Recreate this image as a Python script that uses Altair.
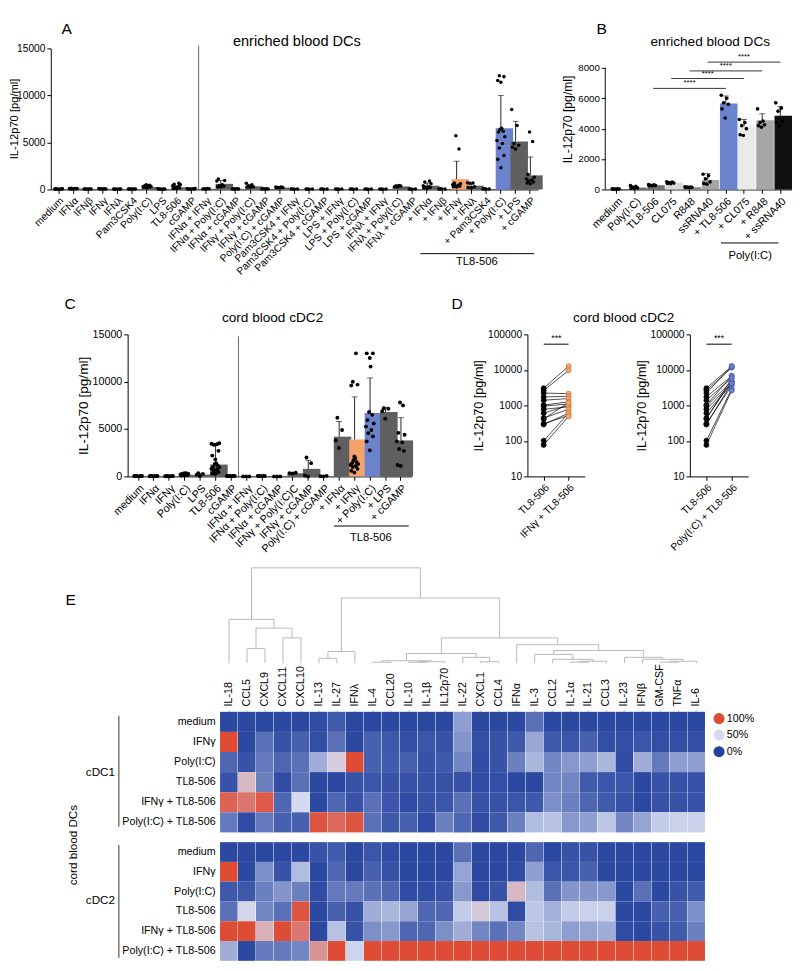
import altair as alt
import pandas as pd

FONT = "Liberation Sans"
GRAY = "#5f5f5f"
ORANGE = "#f5a36c"
BLUE = "#6b83cc"

# ---------------- Panel A : enriched blood DCs ----------------
A_cats = ["medium", "IFNα", "IFNβ", "IFNγ", "IFNλ", "Pam3CSK4", "Poly(I:C)", "LPS", "TL8-506", "cGAMP",
          "IFNα + IFNγ", "IFNα + Poly(I:C)", "IFNα + cGAMP", "IFNγ + Poly(I:C)", "IFNγ + cGAMP",
          "Poly(I:C) + cGAMP", "Pam3CSK4 + IFNγ", "Pam3CSK4 + Poly(I:C)", "Pam3CSK4 + cGAMP",
          "LPS + IFNγ", "LPS + Poly(I:C)", "LPS + cGAMP", "IFNλ + IFNγ", "IFNλ + Poly(I:C)", "IFNλ + cGAMP",
          "+ IFNα", "+ IFNβ", "+ IFNγ", "+ IFNλ", "+ Pam3CSK4", "+ Poly(I:C)", "+ LPS", "+ cGAMP"]
A_mean = [50, 90, 50, 70, 40, 50, 260, 50, 230, 60,
          70, 600, 60, 330, 60, 200, 45, 45, 45, 45, 45, 45, 45, 320, 45,
          400, 55, 1100, 400, 55, 6500, 5100, 1500]
A_sd = [20, 25, 15, 20, 10, 10, 80, 15, 150, 20,
        20, 350, 15, 130, 15, 40, 10, 10, 10, 10, 10, 10, 10, 60, 10,
        270, 12, 1900, 200, 12, 3500, 2150, 1950]
A_dots = [
    [30, 50, 70, 40, 60, 50, 30, 80],
    [60, 80, 100, 120, 90, 70, 100, 60],
    [40, 50, 60, 50, 40, 60],
    [50, 70, 90, 60, 80, 50],
    [30, 40, 50, 40, 30, 40],
    [40, 50, 60, 50, 40, 60],
    [500, 450, 400, 350, 300, 250, 200, 150, 300, 250],
    [30, 50, 70, 40, 60, 50],
    [650, 550, 500, 400, 300, 200, 150, 100, 80],
    [40, 60, 80, 100, 60, 50, 70],
    [50, 80, 100, 70, 60],
    [1100, 950, 900, 500, 400, 350, 300, 250],
    [40, 60, 80, 50, 70],
    [650, 500, 400, 250, 200, 300],
    [40, 60, 80, 50, 70],
    [200, 250, 150, 220, 180, 250],
    [30, 50, 40, 60],
    [30, 50, 40, 60],
    [30, 50, 40, 60],
    [30, 50, 40, 60],
    [30, 50, 40, 60],
    [30, 50, 40, 60],
    [30, 50, 40, 60],
    [420, 400, 380, 300, 250],
    [30, 50, 40, 60],
    [900, 800, 600, 400, 300, 200, 150, 100, 250],
    [40, 60, 50, 70],
    [5700, 4300, 700, 600, 500, 450, 400, 350, 300, 250],
    [720, 700, 650, 300, 200, 150],
    [40, 60, 50, 70],
    [12100, 12000, 11600, 11400, 6500, 6400, 6200, 6100, 5600, 5200, 4900, 4400, 3600, 3200, 2300],
    [8500, 6800, 4900, 4700, 4500, 4300],
    [6100, 5100, 1600, 1300, 1100, 1000, 900, 800, 700, 600],
]
A_special = {"+ IFNγ": ORANGE, "+ Poly(I:C)": BLUE}

# ---------------- Panel B : enriched blood DCs ----------------
B_cats = ["medium", "Poly(I:C)", "TL8-506", "CL075", "R848", "ssRNA40",
          "+ TL8-506", "+ CL075", "+ R848", "+ ssRNA40"]
B_mean = [30, 120, 280, 440, 150, 620, 5650, 4150, 4550, 4850]
B_sd = [10, 60, 30, 40, 20, 420, 500, 450, 430, 600]
B_dots = [
    [30, 20, 40, 25, 35, 30],
    [250, 200, 150, 100, 80, 60],
    [320, 300, 280, 260, 250, 240],
    [500, 480, 450, 420, 400, 380],
    [180, 160, 150, 140, 130, 120],
    [1000, 900, 700, 500, 400, 350],
    [6200, 6000, 5700, 5600, 5300, 4700],
    [4600, 4400, 4200, 4000, 3600, 3550],
    [5300, 4500, 4400, 4250, 4200, 4100],
    [5700, 5350, 5150, 4500, 4400, 4200],
]
B_colors = ["#555555", "#666666", "#707070", "#d9d9d9", "#8c8c8c", "#a5a5a5",
            BLUE, "#e9ebea", "#a6a6a6", "#111111"]
B_sig_start = ["TL8-506", "CL075", "R848", "ssRNA40"]
B_sig_end = ["+ TL8-506", "+ CL075", "+ R848", "+ ssRNA40"]
B_sig_mid = ["R848", "ssRNA40", "+ TL8-506", "+ CL075"]
B_sig_y = [6650, 7300, 7800, 8380]

# ---------------- Panel C : cord blood cDC2 ----------------
C_cats = ["medium", "IFNα", "IFNγ", "Poly(I:C)", "LPS", "TL8-506", "cGAMP",
          "IFNα + IFNγ", "IFNα + Poly(I:C)", "IFNα + cGAMP", "IFNγ + Poly(I:C)C", "IFNγ + cGAMP",
          "Poly(I:C) + cGAMP", "+ IFNα", "+ IFNγ", "+ Poly(I:C)", "+ LPS", "+ cGAMP"]
C_mean = [30, 30, 30, 170, 200, 1250, 50, 10, 40, 10, 330, 800, 20, 4200, 3900, 6700, 6800, 3800]
C_sd = [10, 10, 10, 80, 120, 2150, 15, 5, 10, 5, 80, 900, 10, 1600, 4500, 3700, 500, 2400]
C_dots = [
    [20, 30, 40, 50, 30, 20, 40, 30],
    [20, 30, 40, 30, 20, 40, 30, 25],
    [20, 30, 40, 30, 20, 40, 30, 25],
    [100, 150, 200, 250, 300, 340, 150, 100, 200, 250, 300],
    [50, 170, 270, 340],
    [3500, 3450, 3400, 3350, 2700, 2200, 1800, 1400, 1300, 1150, 1000, 950, 800, 700, 600, 450, 300, 250],
    [30, 40, 60, 50, 30, 40, 60, 50],
    [0, 0, 0],
    [30, 40, 50, 60, 40, 30],
    [0, 0, 0],
    [300, 350, 380],
    [2000, 1400, 100, 0],
    [0, 30, 60],
    [6200, 4900, 3800, 3000],
    [13000, 10000, 9700, 9600, 2100, 1900, 1700, 1500, 1400, 1300, 1200, 1100, 1000, 800, 600, 400],
    [13000, 13000, 12500, 11600, 6800, 6500, 5950, 5600, 5260, 4900, 4570, 4230, 3700, 2750],
    [7200, 7150, 6900, 6100],
    [7800, 7500, 4600, 4400, 3700, 3600, 2900, 2700, 1200, 1100],
]
C_special = {"+ IFNγ": ORANGE, "+ Poly(I:C)": BLUE}

# ---------------- Panel D : paired donors ----------------
D_tl8 = [3050, 2630, 2220, 1730, 1400, 1020, 960, 776, 605, 440, 413, 307, 289, 101, 77]
D_ifng_tl8 = [12700, 9700, 2140, 1800, 1560, 1260, 1090, 915, 1000, 776, 1200, 520, 605, 605, 490]
D_poly_tl8 = [12700, 11500, 12700, 6800, 5850, 6800, 4740, 4270, 4000, 4740, 5850, 3600, 4270, 2920, 2630]

# ---------------- Panel E : heatmap ----------------
CYTOS = ["IL-18", "CCL5", "CXCL9", "CXCL11", "CXCL10", "IL-13", "IL-27", "IFNλ", "IL-4",
         "CCL20", "IL-10", "IL-1β", "IL12p70", "IL-22", "CXCL1", "CCL4", "IFNα", "IL-3",
         "CCL2", "IL-1α", "IL-21", "CCL3", "IL-23", "IFNβ", "GM-CSF", "TNFα", "IL-6"]
CONDS = ["medium", "IFNγ", "Poly(I:C)", "TL8-506", "IFNγ + TL8-506", "Poly(I:C) + TL8-506"]
cdc1 = {
    "medium": [0.02, 0.02, 0.02, 0.02, 0.02, 0.03, 0.08, 0.02, 0.02,
               0.02, 0.02, 0.02, 0.02, 0.30, 0.02, 0.02, 0.02, 0.15,
               0.02, 0.02, 0.02, 0.02, 0.02, 0.02, 0.02, 0.02, 0.02],
    "IFNγ": [1.00, 0.02, 0.15, 0.05, 0.10, 0.04, 0.15, 0.02, 0.10,
             0.07, 0.04, 0.06, 0.05, 0.27, 0.04, 0.05, 0.07, 0.33,
             0.07, 0.06, 0.10, 0.04, 0.04, 0.06, 0.04, 0.04, 0.04],
    "Poly(I:C)": [0.12, 0.05, 0.18, 0.12, 0.15, 0.35, 0.55, 1.00, 0.10,
                  0.08, 0.10, 0.05, 0.07, 0.22, 0.03, 0.05, 0.20, 0.38,
                  0.22, 0.28, 0.30, 0.38, 0.03, 0.35, 0.18, 0.30, 0.30],
    "TL8-506": [0.05, 0.62, 0.20, 0.03, 0.15, 0.02, 0.02, 0.05, 0.06,
                0.05, 0.05, 0.05, 0.05, 0.05, 0.03, 0.04, 0.02, 0.02,
                0.22, 0.22, 0.08, 0.06, 0.06, 0.02, 0.05, 0.05, 0.05],
    "IFNγ + TL8-506": [0.92, 0.85, 0.95, 0.12, 0.50, 0.02, 0.12, 0.05, 0.15,
                       0.06, 0.03, 0.05, 0.06, 0.15, 0.05, 0.05, 0.06, 0.07,
                       0.25, 0.20, 0.12, 0.08, 0.05, 0.02, 0.05, 0.05, 0.05],
    "Poly(I:C) + TL8-506": [0.18, 0.03, 0.18, 0.10, 0.10, 0.97, 0.90, 0.97, 0.15,
                            0.07, 0.10, 0.03, 0.20, 0.12, 0.03, 0.07, 0.20, 0.40,
                            0.42, 0.28, 0.30, 0.43, 0.22, 0.32, 0.45, 0.47, 0.47],
}
cdc2 = {
    "medium": [0.02, 0.02, 0.02, 0.02, 0.02, 0.05, 0.08, 0.02, 0.06,
               0.03, 0.02, 0.02, 0.02, 0.15, 0.02, 0.02, 0.02, 0.12,
               0.02, 0.05, 0.05, 0.02, 0.02, 0.02, 0.02, 0.02, 0.02],
    "IFNγ": [1.00, 0.02, 0.25, 0.05, 0.40, 0.02, 0.12, 0.02, 0.10,
             0.05, 0.02, 0.02, 0.02, 0.32, 0.02, 0.02, 0.03, 0.30,
             0.06, 0.06, 0.10, 0.02, 0.02, 0.02, 0.02, 0.02, 0.02],
    "Poly(I:C)": [0.07, 0.07, 0.20, 0.27, 0.20, 0.03, 0.18, 0.18, 0.15,
                  0.12, 0.03, 0.03, 0.05, 0.28, 0.03, 0.05, 0.62, 0.40,
                  0.15, 0.27, 0.27, 0.28, 0.02, 0.15, 0.02, 0.05, 0.08],
    "TL8-506": [0.15, 0.52, 0.22, 0.15, 0.97, 0.02, 0.10, 0.05, 0.35,
                0.38, 0.32, 0.12, 0.12, 0.45, 0.56, 0.42, 0.03, 0.43,
                0.36, 0.45, 0.47, 0.47, 0.02, 0.02, 0.10, 0.10, 0.25],
    "IFNγ + TL8-506": [1.00, 1.00, 0.65, 1.00, 0.85, 0.02, 0.42, 0.05, 0.25,
                       0.28, 0.12, 0.12, 0.25, 0.35, 0.22, 0.15, 0.22, 0.42,
                       0.38, 0.30, 0.32, 0.35, 0.03, 0.02, 0.05, 0.08, 0.20],
    "Poly(I:C) + TL8-506": [0.35, 0.02, 0.18, 0.18, 0.22, 0.75, 1.00, 0.48, 1.00,
                            1.00, 1.00, 1.00, 1.00, 1.00, 1.00, 1.00, 1.00, 1.00,
                            1.00, 1.00, 1.00, 1.00, 1.00, 1.00, 1.00, 1.00, 1.00],
}
# dendrogram merges: (left, right, height); "mK" = K-th merge
MERGES = [
    ("CCL5", "CXCL9", 15), ("CXCL11", "CXCL10", 26), ("m0", "m1", 36), ("IL-18", "m2", 45),
    ("IL-13", "IL-27", 5), ("m4", "IFNλ", 12),
    ("IL-4", "CCL20", 1), ("IL-10", "IL-1β", 1), ("m7", "IL12p70", 1.5), ("m6", "m8", 2.5),
    ("CXCL1", "CCL4", 1.5), ("IL-22", "m10", 6), ("m9", "m11", 10),
    ("IL-1α", "IL-21", 1), ("m13", "CCL3", 2), ("CCL2", "m14", 4), ("IL-3", "m15", 9),
    ("GM-CSF", "TNFα", 1), ("m17", "IL-6", 2), ("IFNβ", "m18", 4), ("IL-23", "m19", 6),
    ("m16", "m20", 13), ("IFNα", "m21", 19), ("m12", "m22", 26), ("m5", "m23", 67), ("m3", "m24", 98),
]

HEAT_SCALE = alt.Scale(domain=[0, 0.5, 1], range=["#25439f", "#d4dbf0", "#de4c36"], interpolate="rgb")
JIT = [0, -0.8, 0.8, -0.4, 0.4, -1, 1, -0.6, 0.6, -0.2, 0.2]
ONE = pd.DataFrame({"k": [0]})


def note(text, x, y, size=11, align="left", baseline="top", angle=None, color="black", opacity=1):
    kw = dict(text=text, fontSize=size, align=align, baseline=baseline, color=color, font=FONT, opacity=opacity)
    if angle is not None:
        kw["angle"] = angle
    return alt.Chart(ONE).mark_text(**kw).encode(x=alt.value(x), y=alt.value(y))


def anchor(x, y):
    return note(".", x, y, size=2, opacity=0)


def vline(x, y1, y2, color="black"):
    return alt.Chart(ONE).mark_rule(color=color, strokeWidth=1).encode(
        x=alt.value(x), y=alt.value(y1), y2=alt.value(y2))


def hline(x1, x2, y, color="black"):
    return alt.Chart(ONE).mark_rule(color=color, strokeWidth=1).encode(
        x=alt.value(x1), x2=alt.value(x2), y=alt.value(y))


def spacer(w):
    return anchor(w - 0.6, 0).properties(width=w, height=1)


def bar_panel(cats, means, sds, dots, colors, W, ydom, yvals, pi, po, dot_size, jit,
              xfs, yfs, ytfs, ytitle_pad=2, ytitle_x=None, ytitle_y=None, ydomain_line=True):
    assert len(cats) == len(means) == len(sds) == len(dots) == len(colors)
    bars = pd.DataFrame({"cat": cats, "mean": means,
                         "top": [m + s for m, s in zip(means, sds)], "col": colors})
    rows = []
    for c, vals in zip(cats, dots):
        for j, v in enumerate(sorted(vals)):
            rows.append({"cat": c, "val": v, "off": JIT[j % len(JIT)]})
    dd = pd.DataFrame(rows)
    step = W / (len(cats) - pi + 2 * po)
    bw = step * (1 - pi)
    xscale = alt.Scale(domain=cats, paddingInner=pi, paddingOuter=po)
    xaxis = alt.Axis(title=None, labelAngle=-45, labelAlign="right", labelBaseline="top",
                     labelFontSize=xfs, labelPadding=2, tickSize=4, labelOverlap=False)
    yax = dict(title="IL-12p70 [pg/ml]", values=yvals, format="d", labelFontSize=yfs, titleFontSize=ytfs,
               tickSize=4, labelPadding=2, titlePadding=ytitle_pad, grid=False, domain=ydomain_line)
    if ytitle_x is not None:
        yax["titleX"] = ytitle_x
        yax["titleY"] = ytitle_y
    yscale = alt.Scale(domain=ydom, nice=False, zero=True)

    def X(f):
        return alt.X(f, scale=xscale, axis=xaxis)

    def Y(f):
        return alt.Y(f, scale=yscale, axis=alt.Axis(**yax))

    b = alt.Chart(bars).mark_bar().encode(x=X("cat:N"), y=Y("mean:Q"), color=alt.Color("col:N", scale=None))
    e = alt.Chart(bars).mark_rule(color="#222222", strokeWidth=1).encode(x=X("cat:N"), y=Y("mean:Q"), y2="top:Q")
    cap = alt.Chart(bars).mark_tick(color="#222222", thickness=1, size=6).encode(x=X("cat:N"), y=Y("top:Q"))
    d = alt.Chart(dd).mark_circle(color="black", size=dot_size, opacity=1).encode(
        x=X("cat:N"), y=Y("val:Q"),
        xOffset=alt.XOffset("off:Q", scale=alt.Scale(domain=[-1, 1], range=[bw / 2 - jit, bw / 2 + jit])))
    return [b, e, cap, d], X, Y


# ---------- A ----------
A_colors = [A_special.get(c, GRAY) for c in A_cats]
A_layers, AX, AY = bar_panel(A_cats, A_mean, A_sd, A_dots, A_colors, 501, [0, 15000],
                             [0, 5000, 10000, 15000], 0.3, 0.178, 13, 4, 10.5, 10.5, 11.5,
                             ytitle_x=-32, ytitle_y=72)
A = alt.layer(
    *A_layers,
    vline(152, -3, 145, color="#666666"),
    hline(380, 497, 211),
    note("TL8-506", 438, 214, size=11.5, align="center"),
    note("A", 11, -28, size=16),
    note("enriched blood DCs", 253, -7, size=15, align="center", baseline="middle"),
    anchor(503, 0), anchor(0, 250),
).properties(width=501, height=145)

# ---------- B (plot area 145 px tall, 8000 sits 20 px below its top) ----------
B_layers, BX, BY = bar_panel(B_cats, B_mean, B_sd, B_dots, B_colors, 192, [0, 9280],
                             [0, 2000, 4000, 6000, 8000], 0.35, 0.314, 14, 4.5, 11, 10, 12.5,
                             ytitle_pad=3, ydomain_line=False)
sigdf = pd.DataFrame({"cat": B_sig_start, "e": B_sig_end, "y": B_sig_y})
middf = pd.DataFrame({"cat": B_sig_mid, "y": B_sig_y})
sig_rules = alt.Chart(sigdf).mark_rule(color="#333333", strokeWidth=1).encode(
    x=BX("cat:N"), x2="e:N", y=BY("y:Q"))
sig_text = alt.Chart(middf).mark_text(text="****", fontSize=8, baseline="bottom", dy=-1, font=FONT).encode(
    x=BX("cat:N"), y=BY("y:Q"))
B = alt.layer(
    *B_layers, sig_rules, sig_text,
    vline(0, 20, 145),
    hline(119, 178, 200),
    note("Poly(I:C)", 149, 207, size=11.5, align="center"),
    note("B", -9, -28, size=16),
    note("enriched blood DCs", 108, -7, size=14, align="center", baseline="middle"),
    anchor(-49, 0),
).properties(width=192, height=145)

# ---------- C ----------
C_colors = [C_special.get(c, GRAY) for c in C_cats]
C_layers, CX, CY = bar_panel(C_cats, C_mean, C_sd, C_dots, C_colors, 292, [0, 15000],
                             [0, 5000, 10000, 15000], 0.3, 0.343, 16, 4.5, 11, 11, 14)
C = alt.layer(
    *C_layers,
    vline(114, 2, 146, color="#666666"),
    hline(212, 289, 197),
    note("TL8-506", 250, 203, size=11.5, align="center"),
    note("C", -65, -39, size=16),
    note("cord blood cDC2", 149, -17, size=14, align="center", baseline="middle"),
    anchor(-70, 0), anchor(293, 0), anchor(0, 234),
).properties(width=292, height=146)


# ---------- D ----------
def d_layers(cond2, vals2, fill2, stroke2):
    assert len(vals2) == len(D_tl8)
    order = ["TL8-506", cond2]
    rows = []
    for i, (a, b) in enumerate(zip(D_tl8, vals2)):
        rows.append({"pair": i, "cond": "TL8-506", "val": a, "f": "black", "s": "black"})
        rows.append({"pair": i, "cond": cond2, "val": b, "f": fill2, "s": stroke2})
    df = pd.DataFrame(rows)
    xscale = alt.Scale(type="point", domain=order, padding=0.654)
    xaxis = alt.Axis(title=None, labelAngle=-45, labelAlign="right", labelBaseline="top",
                     labelFontSize=10.5, labelPadding=2, tickSize=4)
    yscale = alt.Scale(type="log", domain=[10, 100000], nice=False)
    yaxis = alt.Axis(title="IL-12p70 [pg/ml]", values=[10, 100, 1000, 10000, 100000], format="d",
                     labelFontSize=10.5, titleFontSize=13, titlePadding=2, tickSize=4, labelPadding=2)

    def X(f):
        return alt.X(f, scale=xscale, axis=xaxis)

    def Y(f):
        return alt.Y(f, scale=yscale, axis=yaxis)

    lines = alt.Chart(df).mark_line(color="black", strokeWidth=0.7).encode(x=X("cond:N"), y=Y("val:Q"), detail="pair:N")
    pts = alt.Chart(df).mark_point(filled=True, size=26, strokeWidth=0.8, opacity=1).encode(
        x=X("cond:N"), y=Y("val:Q"),
        fill=alt.Fill("f:N", scale=None), stroke=alt.Stroke("s:N", scale=None))
    sig = pd.DataFrame({"cond": ["TL8-506"], "c2": [cond2], "y": [53000]})
    sr = alt.Chart(sig).mark_rule(color="black", strokeWidth=1).encode(x=X("cond:N"), x2="c2:N", y=Y("y:Q"))
    st = alt.Chart(sig).mark_text(text="***", fontSize=9, baseline="bottom", dx=13, dy=-1, font=FONT).encode(
        x=X("cond:N"), y=Y("y:Q"))
    return [lines, pts, sr, st]


D1 = alt.layer(
    *d_layers("IFNγ + TL8-506", D_ifng_tl8, ORANGE, "#c8773f"),
    note("D", -78, -39, size=16),
    note("cord blood cDC2", 99, -17, size=14, align="center", baseline="middle"),
    anchor(-80, 0),
).properties(width=59, height=146)
D2 = alt.layer(*d_layers("Poly(I:C) + TL8-506", D_poly_tl8, BLUE, "#3d56a6")).properties(width=60, height=146)
Dg = alt.hconcat(D1, D2, spacing=108, bounds="flush")


# ---------- E ----------
def heat_df(block):
    recs = []
    for cond in CONDS:
        vals = block[cond]
        assert len(vals) == len(CYTOS)
        for cy, v in zip(CYTOS, vals):
            recs.append({"cond": cond, "cyto": cy, "v": v})
    return pd.DataFrame(recs)


def heat_rect(block, show_x):
    xaxis = alt.Axis(orient="top", labelAngle=-90, labelAlign="left", labelBaseline="middle", title=None,
                     labelFontSize=11, tickSize=2, tickColor="#aaaaaa", domain=False, labelPadding=4,
                     labelOverlap=False) if show_x else None
    return alt.Chart(heat_df(block)).mark_rect().encode(
        x=alt.X("cyto:N", sort=CYTOS, axis=xaxis),
        y=alt.Y("cond:N", sort=CONDS, axis=alt.Axis(title=None, ticks=False, domain=False,
                                                   labelFontSize=11, labelPadding=5)),
        color=alt.Color("v:Q", scale=HEAT_SCALE, legend=None))


pos = {c: i + 0.5 for i, c in enumerate(CYTOS)}
hgt = {c: 0 for c in CYTOS}
segs = []
for k, (a, b, h) in enumerate(MERGES):
    xa, xb = pos[a], pos[b]
    segs.append({"x": xa, "x2": xa, "y": hgt[a], "y2": h})
    segs.append({"x": xb, "x2": xb, "y": hgt[b], "y2": h})
    segs.append({"x": xa, "x2": xb, "y": h, "y2": h})
    pos[f"m{k}"] = (xa + xb) / 2
    hgt[f"m{k}"] = h
segdf = pd.DataFrame(segs)
dendro_rules = alt.Chart(segdf).mark_rule(color="#b8b8b8", strokeWidth=1).encode(
    x=alt.X("x:Q", scale=alt.Scale(domain=[0, len(CYTOS)], nice=False, zero=False), axis=None),
    x2="x2:Q",
    y=alt.Y("y:Q", scale=alt.Scale(domain=[-40, 98], nice=False, zero=False), axis=None),
    y2="y2:Q")
dendro = alt.layer(dendro_rules, note("E", -159, 25, size=16), anchor(-165, 30)).properties(width=499, height=138)

legdf = pd.DataFrame({"v": [1, 0.5, 0], "lab": ["100%", "50%", "0%"]})
leg_y = alt.Y("lab:N", sort=["100%", "50%", "0%"], scale=alt.Scale(type="point", range=[7, 41], padding=0), axis=None)
leg_pts = alt.Chart(legdf).mark_circle(size=130, opacity=1).encode(
    x=alt.value(513), y=leg_y, color=alt.Color("v:Q", scale=HEAT_SCALE, legend=None))
leg_txt = alt.Chart(legdf).mark_text(align="left", baseline="middle", fontSize=11, font=FONT).encode(
    x=alt.value(521), y=leg_y, text="lab:N")

heat1 = alt.layer(
    heat_rect(cdc1, True),
    vline(-104, 4, 118, color="#333333"),
    note("cDC1", -108, 62, size=12, align="right", baseline="middle"),
    note("cord blood DCs", -151, 137, size=12, align="center", baseline="middle", angle=270),
    leg_pts, leg_txt,
).resolve_scale(y="independent").properties(width=499, height=124)

heat2 = alt.layer(
    heat_rect(cdc2, False),
    vline(-104, 3, 119, color="#333333"),
    note("cDC2", -108, 60, size=12, align="right", baseline="middle"),
).properties(width=499, height=122)

E = alt.vconcat(dendro, heat1, heat2, spacing=10, bounds="flush")

row1 = alt.hconcat(A, B, spacing=15)
row2 = alt.hconcat(spacer(9), alt.hconcat(C, Dg, spacing=37), spacing=0)
row3 = alt.hconcat(spacer(9), E, spacing=0)

chart = alt.vconcat(row1, row2, row3, spacing=3, padding=0).configure_view(stroke=None).configure_axis(
    labelFont=FONT, titleFont=FONT, labelColor="black", titleColor="black",
    domainColor="black", tickColor="black", titleFontWeight="normal", grid=False)

chart.save("out.html", embed_options={"renderer": "svg", "actions": False})
